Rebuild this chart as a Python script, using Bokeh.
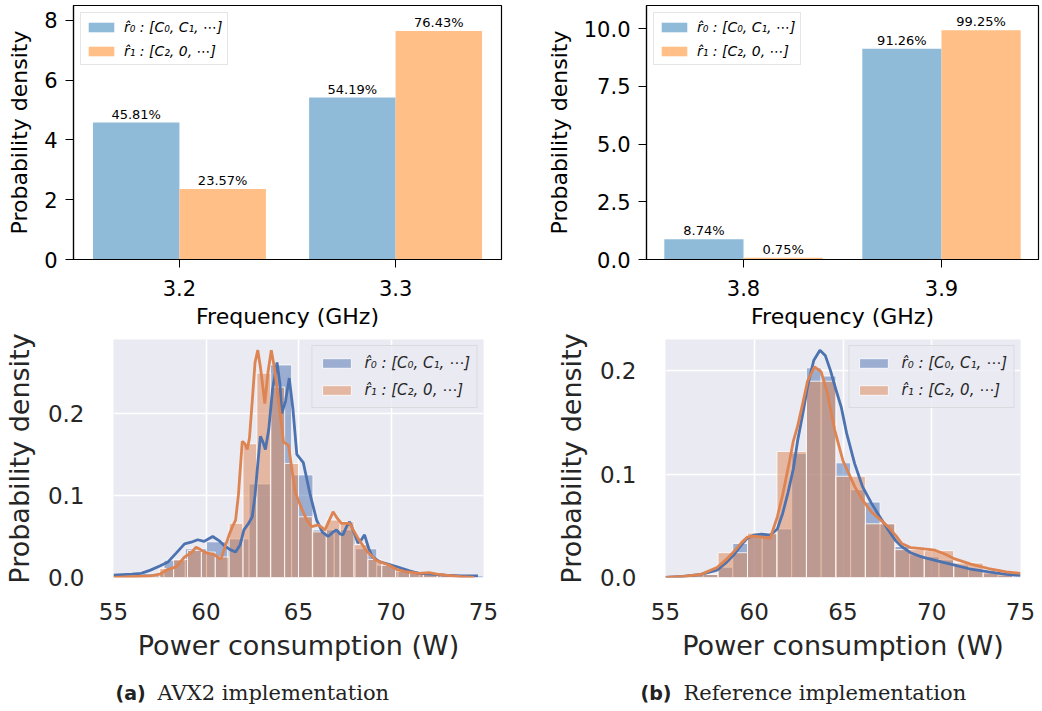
import numpy as np
from bokeh.plotting import figure
from bokeh.models import (Range1d, FixedTicker, PrintfTickFormatter, Legend,
                          LegendItem)
from bokeh.layouts import column, row
from bokeh.core.properties import value
from bokeh.embed import file_html
from bokeh.resources import INLINE

# ---------------- data ----------------
label_r0 = "r\u0302\u2080 : [C\u2080, C\u2081, \u22ef]"
label_r1 = "r\u0302\u2081 : [C\u2082, 0, \u22ef]"

# top row: frequency distribution (percent of samples, bin width 0.1 GHz)
freq_a = ["3.2", "3.3"]
pct_a_r0 = [45.81, 54.19]
pct_a_r1 = [23.57, 76.43]
freq_b = ["3.8", "3.9"]
pct_b_r0 = [8.74, 91.26]
pct_b_r1 = [0.75, 99.25]

# bottom row: power histograms (density) and KDE curves
a_r0_bin_start, a_r0_bin_width = 55.43, 1.15
a_r0_hist = [0.003, 0.005, 0.021, 0.035, 0.0435, 0.047, 0.114, 0.259, 0.125,
             0.058, 0.058, 0.035, 0.015, 0.008, 0.004, 0.002, 0.002]
a_r1_bin_start, a_r1_bin_width = 55.25, 0.75
a_r1_hist = [0.0005, 0.001, 0.002, 0.011, 0.022, 0.033, 0.031, 0.025, 0.066,
             0.163, 0.249, 0.232, 0.139, 0.074, 0.0556, 0.07, 0.068, 0.04,
             0.022, 0.015, 0.008, 0.005, 0.005, 0.003, 0.001]
a_r0_kde_x = [55.0, 55.5, 56.0, 56.5, 57.0, 57.5, 57.95, 58.4, 58.84, 59.2,
              59.55, 59.9, 60.36, 60.7, 60.98, 61.3, 61.6, 61.85, 62.05, 62.3,
              62.5, 62.65, 62.77, 62.94, 63.08, 63.21, 63.39, 63.6, 63.84, 64.0,
              64.1, 64.3, 64.5, 64.7, 64.91, 65.26, 65.62, 65.98, 66.3, 66.6,
              66.85, 67.05, 67.25, 67.4, 67.6, 67.76, 68.0, 68.21, 68.4, 68.57,
              68.8, 69.0, 69.4, 69.73, 70.2, 70.62, 71.0, 71.5, 72.2, 72.94,
              73.8, 74.7]
a_r0_kde_y = [0.003, 0.0035, 0.004, 0.005, 0.009, 0.014, 0.019, 0.030, 0.041,
              0.043, 0.046, 0.044, 0.050, 0.045, 0.039, 0.034, 0.031, 0.040,
              0.058, 0.066, 0.074, 0.100, 0.131, 0.172, 0.165, 0.156, 0.180,
              0.230, 0.262, 0.235, 0.200, 0.215, 0.243, 0.205, 0.150, 0.140,
              0.102, 0.070, 0.055, 0.050, 0.055, 0.058, 0.053, 0.052, 0.062,
              0.068, 0.055, 0.042, 0.046, 0.052, 0.035, 0.025, 0.019, 0.017,
              0.014, 0.011, 0.008, 0.005, 0.004, 0.003, 0.002, 0.002]
a_r1_kde_x = [55.0, 56.0, 57.0, 57.5, 57.95, 58.39, 58.84, 59.2, 59.46, 59.7,
              59.91, 60.2, 60.44, 60.8, 61.07, 61.25, 61.43, 61.6, 61.75, 61.96,
              62.1, 62.23, 62.35, 62.5, 62.65, 62.8, 62.95, 63.18, 63.35, 63.53,
              63.7, 63.92, 64.19, 64.46, 64.82, 65.17, 65.45, 65.71, 66.07,
              66.43, 66.87, 67.1, 67.32, 67.76, 68.21, 68.66, 69.19, 69.9, 70.3,
              70.8, 71.5, 72.05, 72.5, 72.94, 73.8, 74.5]
a_r1_kde_y = [0.000, 0.001, 0.002, 0.004, 0.010, 0.013, 0.025, 0.030, 0.037,
              0.034, 0.031, 0.029, 0.028, 0.022, 0.040, 0.052, 0.062, 0.070,
              0.100, 0.166, 0.163, 0.156, 0.170, 0.215, 0.262, 0.277, 0.255,
              0.212, 0.250, 0.277, 0.255, 0.216, 0.165, 0.161, 0.104, 0.084,
              0.070, 0.062, 0.064, 0.058, 0.080, 0.072, 0.066, 0.066, 0.048,
              0.033, 0.021, 0.015, 0.010, 0.007, 0.005, 0.006, 0.004, 0.003,
              0.001, 0.000]

b_r0_bin_start, b_r0_bin_width = 56.3, 0.83
b_r0_hist = [0.002, 0.003, 0.010, 0.033, 0.040, 0.042, 0.047, 0.120, 0.203,
             0.195, 0.111, 0.085, 0.073, 0.052, 0.030, 0.022, 0.020, 0.017,
             0.012, 0.008, 0.004, 0.002]
b_r1_bin_start, b_r1_bin_width = 56.3, 1.66
b_r1_hist = [0.003, 0.024, 0.043, 0.122, 0.190, 0.098, 0.052, 0.027, 0.026,
             0.014, 0.005]
b_r0_kde_x = [55.0, 56.0, 57.0, 57.9, 58.4, 58.9, 59.3, 59.6, 60.0, 60.4, 60.9,
              61.3, 61.6, 61.9, 62.2, 62.45, 62.75, 63.0, 63.35, 63.7, 64.0,
              64.3, 64.6, 64.9, 65.2, 65.66, 66.1, 66.6, 67.1, 67.55, 68.0,
              68.3, 68.8, 69.43, 70.3, 71.3, 72.2, 73.2, 74.2, 75.0]
b_r0_kde_y = [0.000, 0.001, 0.003, 0.007, 0.014, 0.023, 0.032, 0.038, 0.041,
              0.042, 0.041, 0.047, 0.062, 0.082, 0.105, 0.133, 0.160, 0.185,
              0.210, 0.220, 0.215, 0.200, 0.182, 0.165, 0.140, 0.110, 0.088,
              0.072, 0.058, 0.046, 0.035, 0.030, 0.024, 0.020, 0.016, 0.012,
              0.008, 0.0054, 0.003, 0.002]
b_r1_kde_x = [55.0, 56.0, 57.0, 57.9, 58.4, 58.9, 59.3, 59.6, 60.0, 60.4, 60.9,
              61.3, 61.6, 61.98, 62.2, 62.45, 62.75, 63.0, 63.4, 63.77, 64.1,
              64.53, 65.0, 65.66, 66.1, 66.6, 67.1, 67.55, 68.0, 68.3, 68.8,
              69.43, 70.18, 70.7, 71.3, 72.2, 73.2, 74.2, 75.0]
b_r1_kde_y = [0.000, 0.001, 0.003, 0.0097, 0.017, 0.026, 0.034, 0.039, 0.040,
              0.039, 0.038, 0.0587, 0.080, 0.112, 0.132, 0.147, 0.170, 0.190,
              0.204, 0.199, 0.180, 0.143, 0.113, 0.088, 0.075, 0.0635, 0.056,
              0.049, 0.040, 0.033, 0.029, 0.028, 0.0264, 0.023, 0.018, 0.013,
              0.0087, 0.0055, 0.004]

captions = [("(a)", "AVX2 implementation"), ("(b)", "Reference implementation")]

# ---------------- styling ----------------
FONT = "DejaVu Sans"
BAR_BLUE, BAR_ORANGE = "#8fbbd9", "#ffbf86"
SNS_BLUE, SNS_ORANGE = "#4C72B0", "#DD8452"
SNS_BG, SNS_TXT = "#EAEAF2", "#262626"


def top_bars(freqs, p0, p1, width, left, right, ymax, yticks, fmt):
    p = figure(width=width, height=333, output_backend="svg",
               toolbar_location=None,
               x_range=Range1d(-0.49, 1.49), y_range=Range1d(0, ymax),
               min_border_left=left, min_border_right=right,
               min_border_top=5, min_border_bottom=74)
    idx = list(range(len(freqs)))
    d0 = [v / 10.0 for v in p0]   # percent per 0.1 GHz bin -> density
    d1 = [v / 10.0 for v in p1]
    b0 = p.vbar(x=[i - 0.2 for i in idx], top=d0, width=0.4,
                fill_color=BAR_BLUE, line_color=None)
    b1 = p.vbar(x=[i + 0.2 for i in idx], top=d1, width=0.4,
                fill_color=BAR_ORANGE, line_color=None)
    for xs, ds, ps in (([i - 0.2 for i in idx], d0, p0),
                       ([i + 0.2 for i in idx], d1, p1)):
        p.text(x=xs, y=ds, text=["%.2f%%" % v for v in ps],
               text_align="center", text_baseline="bottom", y_offset=-1,
               text_font=value(FONT), text_font_size="13px",
               text_color="black")
    p.grid.visible = False
    p.outline_line_color = "black"
    p.outline_line_width = 1.2
    p.xaxis.ticker = FixedTicker(ticks=idx)
    p.xaxis.major_label_overrides = {i: f for i, f in zip(idx, freqs)}
    p.yaxis.ticker = FixedTicker(ticks=yticks)
    p.yaxis.formatter = PrintfTickFormatter(format=fmt)
    p.xaxis.axis_label = "Frequency (GHz)"
    p.yaxis.axis_label = "Probability density"
    for ax in p.axis:
        ax.axis_line_color = "black"
        ax.axis_line_width = 1.2
        ax.major_tick_line_color = "black"
        ax.major_tick_out = 8
        ax.major_tick_in = 0
        ax.minor_tick_line_color = None
        ax.major_label_text_font = FONT
        ax.major_label_text_font_size = "21px"
        ax.major_label_text_color = "black"
        ax.axis_label_text_font = FONT
        ax.axis_label_text_font_size = "22px"
        ax.axis_label_text_font_style = "normal"
        ax.axis_label_text_color = "black"
    p.xaxis.major_label_standoff = 12
    p.xaxis.axis_label_standoff = 5
    p.yaxis.major_label_standoff = 8
    p.yaxis.axis_label_standoff = 9
    leg = Legend(items=[LegendItem(label=label_r0, renderers=[b0]),
                        LegendItem(label=label_r1, renderers=[b1])],
                 location="top_left", margin=7, padding=4, spacing=5,
                 glyph_width=32, glyph_height=12, label_height=19,
                 label_standoff=7, label_text_font=FONT,
                 label_text_font_size="14px", label_text_font_style="italic",
                 label_text_color="black", border_line_color="#cccccc",
                 border_line_width=1, background_fill_alpha=0.8)
    p.add_layout(leg)
    return p


def bottom_hist(r0_start, r0_w, r0_h, r1_start, r1_w, r1_h,
                k0x, k0y, k1x, k1y, width, left, right, ymax):
    p = figure(width=width, height=332, output_backend="svg",
               toolbar_location=None,
               x_range=Range1d(55, 75), y_range=Range1d(0, ymax),
               min_border_left=left, min_border_right=right,
               min_border_top=6, min_border_bottom=88,
               background_fill_color=SNS_BG)
    p.outline_line_color = None
    l0 = r0_start + r0_w * np.arange(len(r0_h))
    l1 = r1_start + r1_w * np.arange(len(r1_h))
    q0 = p.quad(left=l0, right=l0 + r0_w, bottom=0, top=r0_h,
                fill_color=SNS_BLUE, fill_alpha=0.5, line_color="white",
                line_alpha=0.8, line_width=1)
    q1 = p.quad(left=l1, right=l1 + r1_w, bottom=0, top=r1_h,
                fill_color=SNS_ORANGE, fill_alpha=0.5, line_color="white",
                line_alpha=0.8, line_width=1)
    p.line(k0x, k0y, line_color=SNS_BLUE, line_width=2.8)
    p.line(k1x, k1y, line_color=SNS_ORANGE, line_width=2.8)
    xt = [55, 60, 65, 70, 75]
    yt = [0.0, 0.1, 0.2]
    p.xaxis.ticker = FixedTicker(ticks=xt)
    p.yaxis.ticker = FixedTicker(ticks=yt)
    p.xgrid.ticker = FixedTicker(ticks=xt)
    p.ygrid.ticker = FixedTicker(ticks=yt)
    p.grid.grid_line_color = "white"
    p.grid.grid_line_width = 1.6
    p.yaxis.formatter = PrintfTickFormatter(format="%.1f")
    p.xaxis.axis_label = "Power consumption (W)"
    p.yaxis.axis_label = "Probability density"
    for ax in p.axis:
        ax.axis_line_color = None
        ax.major_tick_line_color = None
        ax.minor_tick_line_color = None
        ax.major_label_text_font = FONT
        ax.major_label_text_font_size = "23px"
        ax.major_label_text_color = SNS_TXT
        ax.axis_label_text_font = FONT
        ax.axis_label_text_font_size = "27px"
        ax.axis_label_text_font_style = "normal"
        ax.axis_label_text_color = SNS_TXT
    p.xaxis.major_label_standoff = 19
    p.xaxis.axis_label_standoff = 7
    p.yaxis.major_label_standoff = 23
    p.yaxis.axis_label_standoff = 10
    leg = Legend(items=[LegendItem(label=label_r0, renderers=[q0]),
                        LegendItem(label=label_r1, renderers=[q1])],
                 location="top_right", margin=6, padding=6, spacing=5,
                 glyph_width=36, glyph_height=12, label_height=22,
                 label_standoff=10, label_text_font=FONT,
                 label_text_font_size="15px", label_text_font_style="italic",
                 label_text_color=SNS_TXT, border_line_color="#cccccc",
                 border_line_width=1, background_fill_color=SNS_BG,
                 background_fill_alpha=0.8)
    p.add_layout(leg)
    return p


tl = top_bars(freq_a, pct_a_r0, pct_a_r1, 520, 73, 19, 8.5, [0, 2, 4, 6, 8], "%d")
tr = top_bars(freq_b, pct_b_r0, pct_b_r1, 521, 126, 3, 11.0,
              [0.0, 2.5, 5.0, 7.5, 10.0], "%.1f")
bl = bottom_hist(a_r0_bin_start, a_r0_bin_width, a_r0_hist,
                 a_r1_bin_start, a_r1_bin_width, a_r1_hist,
                 a_r0_kde_x, a_r0_kde_y, a_r1_kde_x, a_r1_kde_y,
                 520, 112, 37, 0.290)
br = bottom_hist(b_r0_bin_start, b_r0_bin_width, b_r0_hist,
                 b_r1_bin_start, b_r1_bin_width, b_r1_hist,
                 b_r0_kde_x, b_r0_kde_y, b_r1_kde_x, b_r1_kde_y,
                 521, 145, 21, 0.2304)

# captions
CAP_H = 44
cap = figure(width=1041, height=CAP_H, output_backend="svg",
             toolbar_location=None,
             x_range=Range1d(0, 1041), y_range=Range1d(0, CAP_H),
             min_border=0, min_border_left=0, min_border_right=0,
             min_border_top=0, min_border_bottom=0)
cap.axis.visible = False
cap.grid.visible = False
cap.outline_line_color = None
cap.text(x=[115, 640], y=[17, 17], text=[c[0] for c in captions],
         text_baseline="alphabetic",
         text_font=value(FONT), text_font_style="bold", text_font_size="19px",
         text_color="#222222")
cap.text(x=[157, 683], y=[17, 17], text=[c[1] for c in captions],
         text_baseline="alphabetic", text_font=value("DejaVu Serif"),
         text_font_size="21px", text_color="#222222")

layout = column(row(tl, tr), row(bl, br), cap)
open("out.html", "w").write(file_html(layout, INLINE))
